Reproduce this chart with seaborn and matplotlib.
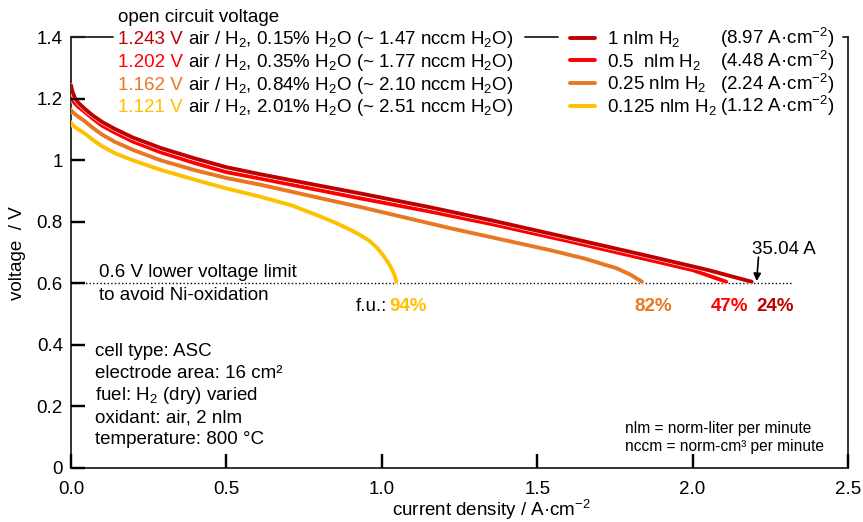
import matplotlib
matplotlib.use("Agg")
import matplotlib.pyplot as plt
import matplotlib.patheffects as pe
from matplotlib.lines import Line2D
import pandas as pd
import seaborn as sns

# ---- polarisation curves: current density (A/cm²) and cell voltage (V) ----
j_100 = [0.0, 0.004, 0.012, 0.025, 0.045, 0.07, 0.1, 0.14, 0.2, 0.29, 0.4, 0.5, 0.61, 0.8, 0.93,
         1.15, 1.35, 1.6, 1.86, 2.05, 2.19]
v_100 = [1.243, 1.225, 1.203, 1.185, 1.166, 1.145, 1.124, 1.102, 1.073, 1.039, 1.005, 0.977, 0.954,
         0.917, 0.892, 0.848, 0.805, 0.748, 0.688, 0.643, 0.605]

j_050 = [0.0, 0.004, 0.012, 0.025, 0.045, 0.07, 0.1, 0.14, 0.2, 0.29, 0.4, 0.5, 0.61, 0.8, 0.93,
         1.15, 1.35, 1.6, 1.86, 2.0, 2.108]
v_050 = [1.202, 1.196, 1.185, 1.172, 1.156, 1.135, 1.112, 1.090, 1.060, 1.025, 0.990, 0.961, 0.940,
         0.902, 0.876, 0.834, 0.793, 0.737, 0.676, 0.643, 0.605]

j_025 = [0.0, 0.004, 0.012, 0.025, 0.045, 0.07, 0.1, 0.14, 0.2, 0.29, 0.4, 0.5, 0.61, 0.8, 0.93,
         1.22, 1.54, 1.65, 1.755, 1.8, 1.837]
v_025 = [1.162, 1.158, 1.150, 1.140, 1.126, 1.105, 1.083, 1.060, 1.033, 0.999, 0.967, 0.942, 0.920,
         0.877, 0.848, 0.779, 0.708, 0.681, 0.649, 0.628, 0.605]

j_0125 = [0.0, 0.004, 0.012, 0.025, 0.045, 0.07, 0.1, 0.14, 0.2, 0.29, 0.41, 0.5, 0.61, 0.71, 0.8,
          0.85, 0.9, 0.93, 0.96, 0.985, 1.005, 1.025, 1.04, 1.047]
v_0125 = [1.121, 1.116, 1.108, 1.099, 1.086, 1.066, 1.045, 1.023, 0.999, 0.968, 0.933, 0.908, 0.881,
          0.853, 0.818, 0.797, 0.773, 0.757, 0.738, 0.715, 0.690, 0.660, 0.630, 0.605]

flows = ["1 nlm", "0.5 nlm", "0.25 nlm", "0.125 nlm"]
colors = ["#C00000", "#FF0000", "#E87722", "#FFC000"]
ocv_labels = ["1.243 V", "1.202 V", "1.162 V", "1.121 V"]
h2o_labels = ["0.15% H$_\\mathregular{2}$O (~ 1.47 nccm H$_\\mathregular{2}$O)",
              "0.35% H$_\\mathregular{2}$O (~ 1.77 nccm H$_\\mathregular{2}$O)",
              "0.84% H$_\\mathregular{2}$O (~ 2.10 nccm H$_\\mathregular{2}$O)",
              "2.01% H$_\\mathregular{2}$O (~ 2.51 nccm H$_\\mathregular{2}$O)"]
flow_labels = ["1 nlm H$_\\mathregular{2}$", "0.5  nlm H$_\\mathregular{2}$",
               "0.25 nlm H$_\\mathregular{2}$", "0.125 nlm H$_\\mathregular{2}$"]
jmax_labels = ["(8.97 A·cm$^\\mathregular{-2}$)", "(4.48 A·cm$^\\mathregular{-2}$)",
               "(2.24 A·cm$^\\mathregular{-2}$)", "(1.12 A·cm$^\\mathregular{-2}$)"]
fu_labels = ["24%", "47%", "82%", "94%"]
fu_x = [2.205, 2.060, 1.813, 1.0235]

x_ticks = [0.0, 0.5, 1.0, 1.5, 2.0, 2.5]
x_ticklabels = ["0.0", "0.5", "1.0", "1.5", "2.0", "2.5"]
y_ticks = [0.0, 0.2, 0.4, 0.6, 0.8, 1.0, 1.2, 1.4]
y_ticklabels = ["0", "0.2", "0.4", "0.6", "0.8", "1", "1.2", "1.4"]

info_lines = ["cell type: ASC", "electrode area: 16 cm²", "fuel: H$_\\mathregular{2}$ (dry) varied",
              "oxidant: air, 2 nlm", "temperature: 800 °C"]

sns.set_theme(style="white")
plt.rcParams.update({
    "font.family": ["Liberation Sans", "DejaVu Sans"],
    "mathtext.fontset": "custom",
    "mathtext.rm": "Liberation Sans",
    "mathtext.it": "Liberation Sans",
    "mathtext.default": "regular",
    "text.color": "black",
    "axes.labelcolor": "black",
    "xtick.color": "black",
    "ytick.color": "black",
    "xtick.bottom": True,
    "ytick.left": True,
    "xtick.direction": "in",
    "ytick.direction": "in",
    "xtick.major.size": 10,
    "ytick.major.size": 10,
    "xtick.major.width": 1.6,
    "ytick.major.width": 1.6,
})

W, H = 863, 522
FS = 13.5
fig = plt.figure(figsize=(W / 100, H / 100), dpi=100)
X0, X1, YT, YB = 71, 848, 37, 468
ax = fig.add_axes([X0 / W, 1 - YB / H, (X1 - X0) / W, (YB - YT) / H])


def P(px, py):
    return px / W, 1 - py / H


frames = []
for f, j, v in zip(flows, [j_100, j_050, j_025, j_0125], [v_100, v_050, v_025, v_0125]):
    frames.append(pd.DataFrame({"j": j, "v": v, "flow": f}))
df = pd.concat(frames, ignore_index=True)

for f, c in list(zip(flows, colors))[::-1]:
    sns.lineplot(data=df[df["flow"] == f], x="j", y="v", color=c, lw=2.8,
                 ax=ax, legend=False, zorder=3,
                 path_effects=[pe.Stroke(linewidth=3.6, foreground="white"), pe.Normal()])

# lower voltage limit
ax.plot([0, 2.32], [0.6, 0.6], color="black", lw=1.0, ls=(0, (1, 1.6)), zorder=2)
fig.text(*P(99, 277), "0.6 V lower voltage limit", fontsize=FS, va="baseline")
fig.text(*P(99, 300), "to avoid Ni-oxidation", fontsize=FS, va="baseline")

# fuel utilisation labels
fig.text(*P(356, 311), "f.u.:", fontsize=FS, va="baseline")
for lab, xx, c in zip(fu_labels, fu_x, colors):
    ax.text(xx, 0.51, lab, color=c, fontsize=FS, fontweight="bold", va="baseline", ha="left")

# maximum current annotation
ax.text(2.192, 0.695, "35.04 A", fontsize=FS, va="baseline", ha="left")
ax.annotate("", xy=(2.206, 0.607), xytext=(2.212, 0.685),
            arrowprops=dict(arrowstyle="-|>", color="black", lw=1.2, mutation_scale=11,
                            shrinkA=0, shrinkB=0))

# axes styling
ax.set_xlim(0, 2.5)
ax.set_ylim(0, 1.4)
ax.set_xticks(x_ticks, labels=x_ticklabels)
ax.set_yticks(y_ticks, labels=y_ticklabels)
ax.set(xlabel=None, ylabel=None)
ax.spines["top"].set_visible(False)
for s in ["left", "bottom", "right"]:
    ax.spines[s].set_visible(True)
    ax.spines[s].set_color("#222222")
    ax.spines[s].set_linewidth(1.3)
ax.grid(False)
ax.xaxis.set_tick_params(which="major", bottom=True, top=False, direction="in", length=10,
                         width=1.6, color="black", labelsize=FS, labelcolor="black", pad=9.5)
ax.yaxis.set_tick_params(which="major", left=True, right=False, direction="in", length=10,
                         width=1.6, color="black", labelsize=FS, labelcolor="black", pad=5.8)
for lab in ax.get_yticklabels():
    lab.set_verticalalignment("center_baseline")

# inward tick marks, drawn on the axis transforms
tick_px = 13.9
ax.vlines(x_ticks, 0, tick_px / (YB - YT), transform=ax.get_xaxis_transform(),
          colors="black", lw=1.6, zorder=4, clip_on=False)
ax.hlines(y_ticks[:-1], 0, tick_px / (X1 - X0), transform=ax.get_yaxis_transform(),
          colors="black", lw=1.6, zorder=4, clip_on=False)

fig.text(*P(491, 516), "current density / A·cm$^\\mathregular{-2}$", fontsize=FS,
         ha="center", va="baseline")
fig.text(*P(18, 253), "voltage  / V", fontsize=FS, rotation=90, ha="center", va="center")

# top frame made of bracket segments around the legend
for (xa, xb) in [(71, 113), (525, 558), (843, 848)]:
    fig.add_artist(Line2D([xa / W, xb / W], [1 - 37 / H, 1 - 37 / H], color="#222222", lw=1.3,
                          transform=fig.transFigure))

# legend: open circuit voltages and humidity
base = [44.3, 66.9, 89.5, 112.1]
fig.text(*P(118, 21.5), "open circuit voltage", fontsize=FS, va="baseline")
for b, ocv, h2o, c in zip(base, ocv_labels, h2o_labels, colors):
    fig.text(*P(118, b), ocv, color=c, fontsize=FS, va="baseline")
    fig.text(*P(188, b), "air / H$_\\mathregular{2}$, " + h2o, fontsize=FS, va="baseline")

# legend: hydrogen flow rates
for b, fl, jm, c in zip(base, flow_labels, jmax_labels, colors):
    yy = 1 - (b - 6.5) / H
    fig.add_artist(Line2D([570 / W, 595 / W], [yy, yy], color=c, lw=2.8, transform=fig.transFigure))
    fig.text(*P(607, b), fl, fontsize=FS, va="baseline")
    fig.text(*P(720, b), jm, fontsize=FS, va="baseline")

# operating conditions
for i, t in enumerate(info_lines):
    fig.text(*P(95, 356 + 22.1 * i), t, fontsize=FS, va="baseline")

fig.text(*P(625, 433.3), "nlm = norm-liter per minute", fontsize=11.2, va="baseline")
fig.text(*P(625, 450.7), "nccm = norm-cm³ per minute", fontsize=11.2, va="baseline")

fig.savefig("out.png", dpi=100)
